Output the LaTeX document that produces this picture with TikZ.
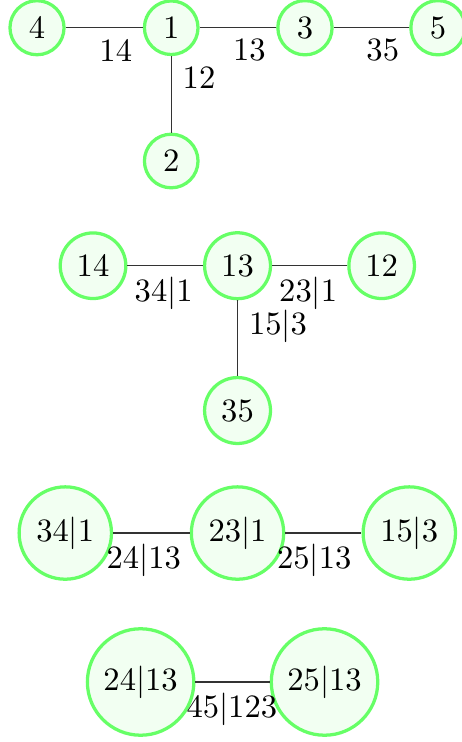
\documentclass[tikz,border=0pt]{standalone}
\begin{document}
\begin{tikzpicture}[
        vertex/.style={circle, draw=green!60, fill=green!5, line width=1pt, inner sep=2.9pt},
        edgelabel/.style={inner sep=3.33pt},
        link/.style={draw=black!80}
    ]
        % Cadre de l'image
        \useasboundingbox (0,0) rectangle (4.981,-8);

        % Premier arbre
        \node[vertex] (a1) at (1.846,-0.299) {1};
        \node[vertex] (a4) at (0.399,-0.299) {4};
        \node[vertex] (a3) at (3.288,-0.299) {3};
        \node[vertex] (a5) at (4.722,-0.299) {5};
        \node[vertex] (a2) at (1.846,-1.736) {2};

        \draw[link] (a4) -- node[edgelabel, below, pos=0.65] {14} (a1);
        \draw[link] (a1) -- node[edgelabel, below, pos=0.65] {13} (a3);
        \draw[link] (a3) -- node[edgelabel, below, pos=0.65] {35} (a5);
        \draw[link] (a1) -- node[edgelabel, right, pos=0.28] {12} (a2);

        % Deuxieme arbre
        \node[vertex] (b13) at (2.561,-2.865) {13};
        \node[vertex] (b14) at (1.003,-2.865) {14};
        \node[vertex] (b12) at (4.115,-2.865) {12};
        \node[vertex] (b35) at (2.561,-4.426) {35};

        \draw[link] (b14) -- node[edgelabel, below, pos=0.48] {$34|1$} (b13);
        \draw[link] (b13) -- node[edgelabel, below, pos=0.48] {$23|1$} (b12);
        \draw[link] (b13) -- node[edgelabel, right, pos=0.35] {$15|3$} (b35);

        % Troisieme arbre
        \node[vertex] (c231) at (2.561,-5.747) {$23|1$};
        \node[vertex] (c341) at (0.704,-5.747) {$34|1$};
        \node[vertex] (c153) at (4.413,-5.747) {$15|3$};

        \draw[link] (c341) -- node[edgelabel, below, pos=0.40] {$24|13$} (c231);
        \draw[link] (c231) -- node[edgelabel, below, pos=0.38] {$25|13$} (c153);

        % Quatrieme arbre
        \node[vertex] (d2413) at (1.516,-7.353) {$24|13$};
        \node[vertex] (d2513) at (3.499,-7.353) {$25|13$};

        \draw[link] (d2413) -- node[edgelabel, below, pos=0.49] {$45|123$} (d2513);
    \end{tikzpicture}
\end{document}
